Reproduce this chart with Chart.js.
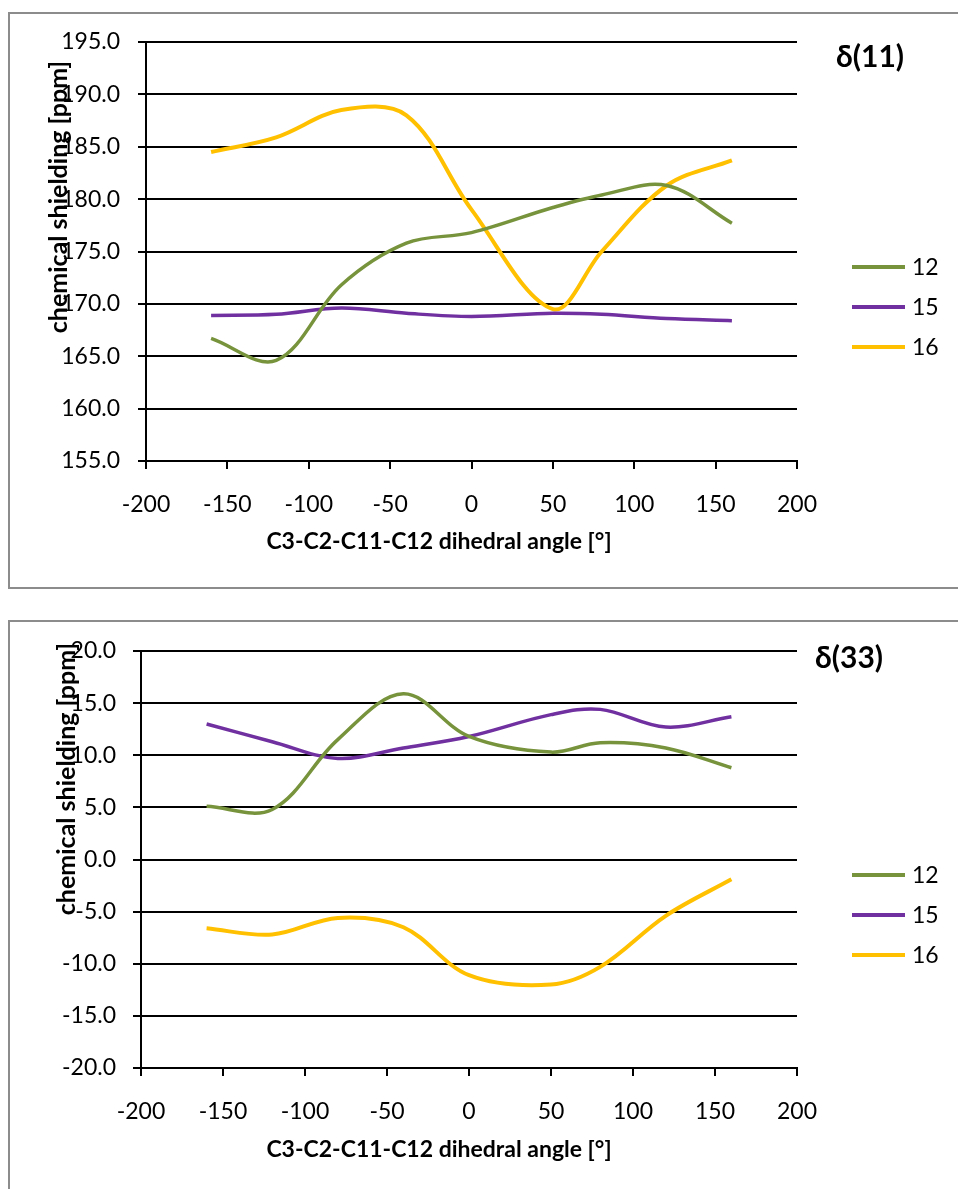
<!DOCTYPE html>
<html lang="en">
<head>
<meta charset="UTF-8">
<title>Chemical shielding vs dihedral angle</title>
<script src="https://cdn.jsdelivr.net/npm/chart.js"></script>
<style>
  body { margin: 0; background: #fff; overflow: hidden; width: 958px; height: 1189px; }
  canvas { position: absolute; left: 0; }
  #chart11 { top: 0; }
  #chart33 { top: 600px; }
</style>
</head>
<body>
<canvas id="chart11" width="958" height="600"></canvas>
<canvas id="chart33" width="958" height="589"></canvas>

<script>
// dihedral angles C3-C2-C11-C12 (deg)
const angles = [-160, -120, -80, -40, 0, 50, 80, 120, 160];
const seriesNames = ['12', '15', '16'];

// delta(11) chemical shielding [ppm]
const d11_12 = [166.7, 164.6, 171.8, 175.8, 176.8, 179.2, 180.4, 181.3, 177.7];
const d11_15 = [168.9, 169.0, 169.6, 169.1, 168.8, 169.1, 169.0, 168.6, 168.4];
const d11_16 = [184.5, 185.9, 188.5, 188.0, 179.0, 169.5, 175.0, 181.3, 183.7];

// delta(33) chemical shielding [ppm]
const d33_12 = [5.1, 4.8, 11.5, 15.9, 11.8, 10.3, 11.2, 10.7, 8.8];
const d33_15 = [13.0, 11.3, 9.7, 10.7, 11.8, 13.9, 14.4, 12.7, 13.7];
const d33_16 = [-6.6, -7.2, -5.6, -6.5, -11.1, -12.0, -10.3, -5.4, -1.9];

const xTicks = [-200, -150, -100, -50, 0, 50, 100, 150, 200];
const yTicks11 = [155, 160, 165, 170, 175, 180, 185, 190, 195];
const yTicks33 = [-20, -15, -10, -5, 0, 5, 10, 15, 20];

const colors = ['#77933C', '#7030A0', '#FFC000'];
const FONT = 'Lato, "Open Sans", sans-serif';

// frame, titles and legend drawn on the canvas
const decor = {
  id: 'decor',
  beforeDraw(chart, args, o) {
    const ctx = chart.ctx;
    ctx.save();
    ctx.strokeStyle = '#8c8c8c';
    ctx.lineWidth = 2;
    ctx.strokeRect(o.frame.x, o.frame.y, o.frame.w, o.frame.h);
    ctx.restore();
  },
  afterDraw(chart, args, o) {
    const ctx = chart.ctx;
    ctx.save();
    ctx.fillStyle = '#000';
    ctx.textBaseline = 'middle';

    // chart title
    ctx.font = 'bold 30px ' + FONT;
    ctx.textAlign = 'center';
    ctx.fillText(o.title.text, o.title.x, o.title.y);

    // x axis title
    ctx.font = 'bold 23px ' + FONT;
    ctx.fillText('C3-C2-C11-C12 dihedral angle [°]', o.xTitle.x, o.xTitle.y);

    // y axis title
    ctx.save();
    ctx.translate(o.yTitle.x, o.yTitle.y);
    ctx.rotate(-Math.PI / 2);
    ctx.font = 'bold 25px ' + FONT;
    ctx.fillText('chemical shielding [ppm]', 0, 0);
    ctx.restore();

    // legend
    ctx.font = '23px ' + FONT;
    ctx.textAlign = 'left';
    chart.data.datasets.forEach((ds, i) => {
      const y = o.legend.y + i * o.legend.gap;
      ctx.strokeStyle = ds.borderColor;
      ctx.lineWidth = 4;
      ctx.beginPath();
      ctx.moveTo(852, y);
      ctx.lineTo(905, y);
      ctx.stroke();
      ctx.fillText(ds.label, 912, y + 1);
    });
    ctx.restore();
  }
};

function makeChart(id, series, yTicks, d) {
  const datasets = series.map((vals, i) => ({
    label: seriesNames[i],
    data: angles.map((a, j) => ({ x: a, y: vals[j] })),
    borderColor: colors[i],
    borderWidth: i === 2 ? 4 : 3.5,
    pointRadius: 0,
    fill: false,
    tension: 0.35
  }));

  return new Chart(document.getElementById(id), {
    type: 'line',
    data: { datasets: datasets },
    options: {
      responsive: false,
      animation: false,
      layout: { padding: d.padding },
      plugins: {
        legend: { display: false },
        tooltip: { enabled: false },
        decor: d
      },
      scales: {
        x: {
          type: 'linear',
          min: xTicks[0],
          max: xTicks[xTicks.length - 1],
          afterBuildTicks: s => { s.ticks = xTicks.map(v => ({ value: v })); },
          afterFit: s => { s.height = 100; },
          grid: { drawOnChartArea: false, drawTicks: true, tickLength: 8, color: '#000', lineWidth: 2 },
          border: { display: true, color: '#000', width: 2 },
          ticks: { color: '#000', font: { family: FONT, size: 23 }, padding: d.xPad, maxRotation: 0 }
        },
        y: {
          min: yTicks[0],
          max: yTicks[yTicks.length - 1],
          afterBuildTicks: s => { s.ticks = yTicks.map(v => ({ value: v })); },
          afterFit: s => { s.width = 100; },
          grid: { color: '#000', lineWidth: 2, tickLength: 8 },
          border: { display: true, color: '#000', width: 2 },
          ticks: {
            color: '#000',
            font: { family: FONT, size: 23 },
            padding: d.yPad,
            callback: v => v.toFixed(1)
          }
        }
      }
    },
    plugins: [decor]
  });
}

makeChart('chart11', [d11_12, d11_15, d11_16], yTicks11, {
  padding: { left: 46, right: 161, top: 42, bottom: 39 },
  xPad: 22, yPad: 18,
  frame: { x: 9, y: 13, w: 1000, h: 575 },
  title: { text: 'δ(11)', x: 870, y: 57 },
  xTitle: { x: 439, y: 542 },
  yTitle: { x: 59, y: 197 },
  legend: { y: 267, gap: 40 }
});

makeChart('chart33', [d33_12, d33_15, d33_16], yTicks33, {
  padding: { left: 41, right: 161, top: 51, bottom: 21 },
  xPad: 22, yPad: 17,
  frame: { x: 9, y: 21, w: 1000, h: 600 },
  title: { text: 'δ(33)', x: 849, y: 58 },
  xTitle: { x: 439, y: 550 },
  yTitle: { x: 67, y: 179 },
  legend: { y: 275, gap: 40 }
});
</script>
</body>
</html>
